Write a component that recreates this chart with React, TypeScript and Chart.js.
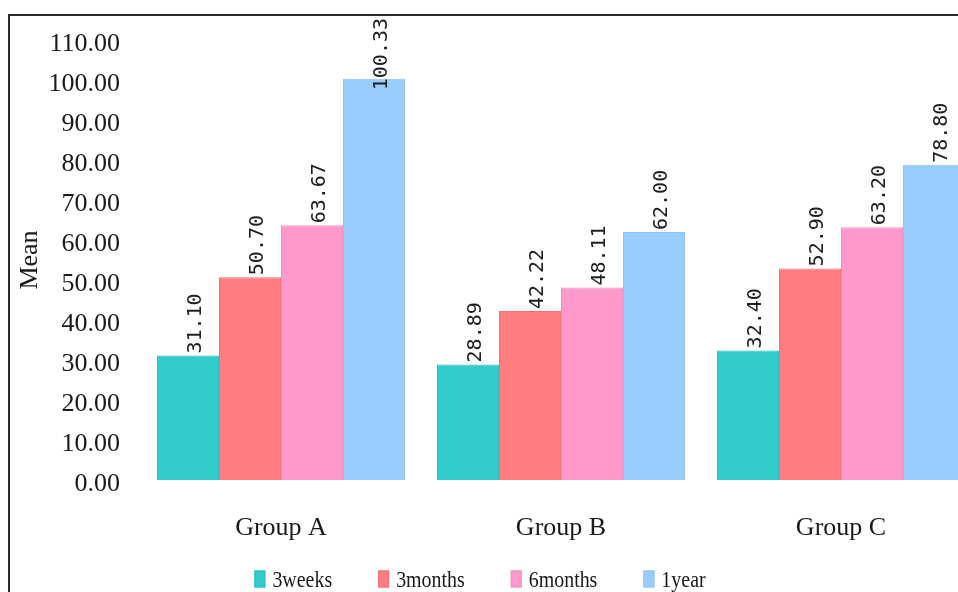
import React, { useEffect, useRef } from "react";
import { Chart, registerables } from "chart.js";

Chart.register(...registerables);

const categories = ["Group A", "Group B", "Group C"];
const seriesNames = ["3weeks", "3months", "6months", "1year"];
const weeks3 = [31.1, 28.89, 32.4];
const months3 = [50.7, 42.22, 52.9];
const months6 = [63.67, 48.11, 63.2];
const year1 = [100.33, 62.0, 78.8];
const yMin = 0;
const yMax = 110;
const yStep = 10;

const fills = ["#33CCCC", "#FF7C80", "#FF99CC", "#99CCFF"];
const edges = ["#2EBDBD", "#F27276", "#F48EC2", "#8FC2F5"];

const serif = "'Liberation Serif', 'Times New Roman', serif";

const valueLabels = {
  id: "valueLabels",
  afterDatasetsDraw(chart: any) {
    const ctx = chart.ctx;
    ctx.save();
    ctx.font = "20px 'DejaVu Sans Mono', monospace";
    ctx.fillStyle = "#1e1e1e";
    ctx.textAlign = "left";
    ctx.textBaseline = "middle";
    chart.data.datasets.forEach((ds: any, i: number) => {
      const meta = chart.getDatasetMeta(i);
      meta.data.forEach((bar: any, j: number) => {
        const text = (ds.data[j] as number).toFixed(2);
        const w = ctx.measureText(text).width;
        const y = Math.max(bar.y - 2, chart.chartArea.top - 22 + w);
        ctx.save();
        ctx.translate(bar.x + 8, y);
        ctx.rotate(-Math.PI / 2);
        ctx.fillText(text, 0, 0);
        ctx.restore();
      });
    });
    ctx.restore();
  },
};

// legend drawn on the canvas, below the category labels
const bottomLegend = {
  id: "bottomLegend",
  afterDraw(chart: any) {
    const ctx = chart.ctx;
    const sx = 0.83;
    const boxW = 11;
    const boxH = 17;
    const gapText = 7;
    const gapItem = 46;
    const centerX = 501;
    const rowY = 579;
    ctx.save();
    ctx.font = `24px ${serif}`;
    const items = chart.data.datasets.map((ds: any) => ({
      text: ds.label,
      color: ds.backgroundColor,
      edge: ds.borderColor,
      w: ctx.measureText(ds.label).width * sx,
    }));
    const total =
      items.reduce((a: number, it: any) => a + boxW + gapText + it.w, 0) +
      gapItem * (items.length - 1);
    let x = centerX - total / 2;
    items.forEach((it: any) => {
      ctx.fillStyle = it.color;
      ctx.fillRect(x, rowY - boxH / 2, boxW, boxH);
      ctx.strokeStyle = it.edge;
      ctx.lineWidth = 1;
      ctx.strokeRect(x + 0.5, rowY - boxH / 2 + 0.5, boxW - 1, boxH - 1);
      ctx.save();
      ctx.translate(x + boxW + gapText, rowY + 2);
      ctx.scale(sx, 1);
      ctx.fillStyle = "#1a1a1a";
      ctx.textAlign = "left";
      ctx.textBaseline = "middle";
      ctx.fillText(it.text, 0, 0);
      ctx.restore();
      x += boxW + gapText + it.w + gapItem;
    });
    ctx.restore();
  },
};

export default function App() {
  const ref = useRef<HTMLCanvasElement | null>(null);
  useEffect(() => {
    if (!ref.current) return;
    const values = [weeks3, months3, months6, year1];
    const chart = new Chart(ref.current, {
      type: "bar",
      data: {
        labels: categories,
        datasets: seriesNames.map((name, i) => ({
          label: name,
          data: values[i],
          backgroundColor: fills[i],
          borderColor: edges[i],
          borderWidth: 1,
          categoryPercentage: 0.886,
          barPercentage: 1,
        })),
      },
      options: {
        responsive: false,
        animation: false,
        layout: { padding: { top: 40, left: 0, right: 0, bottom: 0 } },
        plugins: {
          tooltip: { enabled: false },
          legend: { display: false },
        },
        scales: {
          x: {
            grid: { display: false, drawTicks: false },
            border: { display: false },
            ticks: {
              color: "#1a1a1a",
              padding: 33,
              font: { family: serif, size: 26 },
            },
            afterFit: (s: any) => {
              s.height = 120;
            },
          },
          y: {
            min: yMin,
            max: yMax,
            grid: { display: false, drawTicks: false },
            border: { display: false },
            ticks: {
              stepSize: yStep,
              padding: 21,
              labelOffset: 4,
              color: "#1a1a1a",
              font: { family: serif, size: 26 },
              callback: (v: any) => Number(v).toFixed(2),
            },
            title: {
              display: true,
              text: "Mean",
              color: "#1a1a1a",
              font: { family: serif, size: 26 },
              padding: { top: 36, bottom: 0 },
            },
            afterFit: (s: any) => {
              s.width = 162;
            },
          },
        },
      },
      plugins: [valueLabels, bottomLegend],
    });
    return () => chart.destroy();
  }, []);

  return (
    <div
      style={{
        position: "fixed",
        left: 0,
        top: 0,
        width: 958,
        height: 592,
        overflow: "hidden",
        background: "#fff",
      }}
    >
      <canvas
        ref={ref}
        width={1002}
        height={600}
        style={{ position: "absolute", left: -21, top: 0, width: 1002, height: 600 }}
      />
      <div
        style={{
          position: "absolute",
          left: 8,
          top: 14,
          width: 2000,
          height: 2000,
          borderLeft: "2px solid #2b2b2b",
          borderTop: "2px solid #2b2b2b",
          pointerEvents: "none",
        }}
      />
    </div>
  );
}
